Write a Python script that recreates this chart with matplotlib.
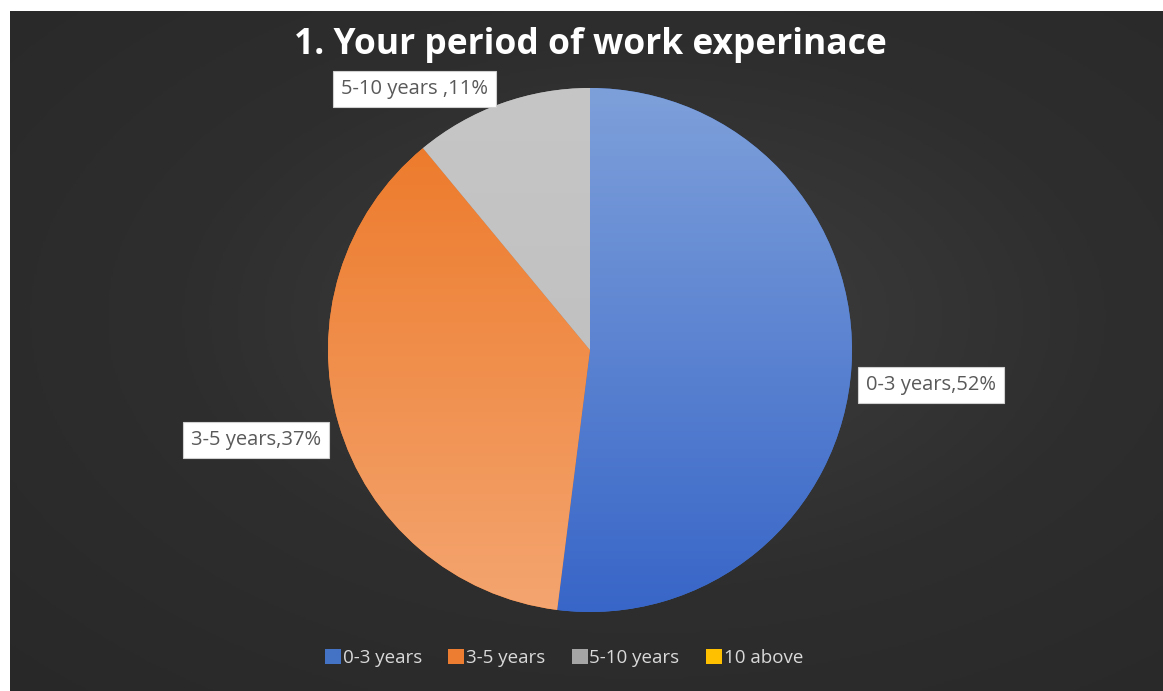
import numpy as np
import matplotlib
matplotlib.use("Agg")
import matplotlib.pyplot as plt
from matplotlib.patches import Patch
from matplotlib.colors import LinearSegmentedColormap

# ---- data ----
title = "1. Your period of work experinace"
categories = ["0-3 years", "3-5 years", "5-10 years", "10 above"]
values = [52, 37, 11, 0]
label_texts = ["0-3 years,52%", "3-5 years,37%", "5-10 years ,11%", None]

# ---- style ----
solid_colors = ["#4472c4", "#ed7d31", "#a5a5a5", "#ffc000"]
grad_top = ["#7ea0da", "#ec7624", "#c6c6c6", "#ffd54a"]
grad_bot = ["#3866c8", "#f4a570", "#bcbcbc", "#ffc000"]
label_r = [1.31, 1.32, 1.20, None]
label_dtheta = [-2.3, -1.1, 14.2, None]

W, H = 1163, 691
fig = plt.figure(figsize=(W / 100, H / 100), dpi=100, facecolor="white")

# background radial gradient
bg = fig.add_axes([10 / W, 0, 1 - 10 / W, 1 - 11 / H])
bg.set_axis_off()
yy, xx = np.mgrid[0:1:300j, 0:1:500j]
d = np.sqrt(((xx - 0.55) / 0.8) ** 2 + ((yy - 0.55) / 0.8) ** 2)
bgcmap = LinearSegmentedColormap.from_list("bg", ["#3f3f3f", "#2e2e2e", "#282828"])
bg.imshow(np.clip(d, 0, 1), cmap=bgcmap, vmin=0, vmax=1, aspect="auto",
          extent=[0, 1, 0, 1], origin="lower", interpolation="bilinear")

# pie axes
cx, cy, R = 590, 350, 262
ax = fig.add_axes([(cx - R) / W, (H - cy - R) / H, 2 * R / W, 2 * R / H])

wedges, _ = ax.pie(values, colors=solid_colors, startangle=90, counterclock=False,
                   radius=1, wedgeprops=dict(linewidth=0))

grad = np.linspace(0, 1, 256).reshape(-1, 1)
for w, ct, cb in zip(wedges, grad_top, grad_bot):
    cmap = LinearSegmentedColormap.from_list("g", [cb, ct])
    im = ax.imshow(grad, cmap=cmap, extent=[-1, 1, -1, 1], origin="lower",
                   aspect="auto", interpolation="bilinear", zorder=2)
    im.set_clip_path(w)

ax.set_xlim(-1, 1)
ax.set_ylim(-1, 1)
ax.set_aspect("equal")
ax.set_axis_off()

font = "Open Sans"
for w, txt, r, dt in zip(wedges, label_texts, label_r, label_dtheta):
    if txt is None:
        continue
    mid = np.deg2rad((w.theta1 + w.theta2) / 2 + dt)
    ax.text(r * np.cos(mid), r * np.sin(mid), txt, ha="center", va="center",
            fontsize=14.5, color="#595959", family=font, zorder=5, clip_on=False,
            bbox=dict(boxstyle="square,pad=0.4", fc="white", ec="#d0d0d0", lw=0.8))

fig.text(cx / W, 1 - 45 / H, title, ha="center", va="center", fontsize=25.5,
         fontweight="bold", color="white", family=font)

handles = [Patch(facecolor=c, edgecolor="none") for c in solid_colors]
leg = fig.legend(handles, categories, loc="center", bbox_to_anchor=(564 / W, 1 - 658 / H),
                 ncol=4, frameon=False, handlelength=0.85, handleheight=0.8,
                 handletextpad=0.1, columnspacing=1.4,
                 prop=dict(family=font, size=13.5))
for t in leg.get_texts():
    t.set_color("#d9d9d9")

fig.savefig("out.png", dpi=100, facecolor="white")
